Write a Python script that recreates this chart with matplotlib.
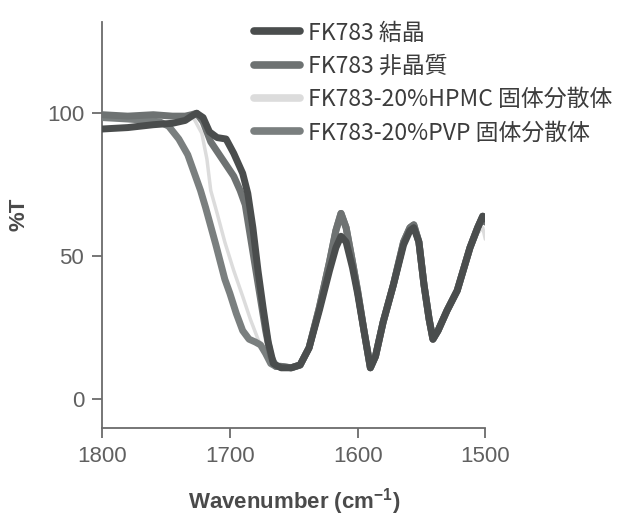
import matplotlib
matplotlib.use("Agg")
import matplotlib.pyplot as plt

plt.rcParams['font.family'] = ['Liberation Sans', 'DejaVu Sans']
plt.rcParams['mathtext.fontset'] = 'custom'
plt.rcParams['mathtext.rm'] = 'Liberation Sans'
plt.rcParams['mathtext.bf'] = 'Liberation Sans:bold'

# IR spectra (wavenumber in cm-1, transmittance in %)
labels = ["FK783 結晶", "FK783 非晶質", "FK783-20%HPMC 固体分散体", "FK783-20%PVP 固体分散体"]

crystal_wn = [1800, 1780, 1760, 1745, 1735, 1730, 1726, 1721, 1716, 1710, 1703, 1697, 1690,
              1686, 1682, 1678, 1674, 1670, 1666, 1660, 1652, 1645, 1638, 1630, 1622, 1617,
              1613, 1609, 1604, 1600, 1595, 1590, 1586, 1580, 1572, 1564, 1559, 1556, 1552,
              1548, 1544, 1541, 1537, 1530, 1522, 1512, 1506, 1502, 1500]
crystal_t = [94.5, 95, 96, 96.5, 97.5, 99, 100, 98.5, 93.5, 91.5, 91, 86, 79,
             72, 60, 45, 32, 20, 12.5, 11, 11, 12, 18, 31, 45, 53,
             57, 55, 46, 37, 24, 11, 15, 27, 40, 54, 59, 60, 55,
             40, 28, 21, 24, 31, 38, 53, 60, 64, 63]

amorph_wn = [1800, 1780, 1760, 1745, 1735, 1730, 1726, 1721, 1715, 1706, 1697, 1692, 1688,
             1684, 1680, 1676, 1672, 1668, 1664, 1660, 1652, 1645, 1638, 1630, 1622, 1617,
             1613, 1609, 1604, 1600, 1595, 1590, 1586, 1580, 1572, 1564, 1559, 1556, 1552,
             1548, 1544, 1541, 1537, 1530, 1522, 1512, 1506, 1502, 1500]
amorph_t = [99.5, 99, 99.5, 99, 99, 99.5, 100, 97, 90, 84, 78, 73, 68,
            57, 46, 35, 24, 15, 11.5, 11.5, 11, 12, 18, 32, 48, 59,
            65, 60, 48, 38, 24, 11, 15, 27, 40, 55, 60, 61, 55,
            40, 28, 21, 24, 31, 38, 53, 60, 64, 62]

hpmc_wn = [1800, 1780, 1760, 1745, 1735, 1728, 1722, 1718, 1715, 1710, 1704, 1697, 1690,
           1684, 1678, 1672, 1666, 1660, 1652, 1645, 1638, 1630, 1622, 1617,
           1613, 1609, 1604, 1600, 1595, 1590, 1586, 1580, 1572, 1564, 1559, 1556, 1552,
           1548, 1544, 1541, 1537, 1530, 1522, 1512, 1506, 1502, 1500]
hpmc_t = [99, 99.5, 99, 99, 99, 98, 93, 84, 73, 65, 55, 45, 36,
          28, 21, 15, 12, 11, 11, 12, 18, 32, 48, 59,
          64, 60, 48, 38, 24, 11.5, 15, 27, 40, 54, 58, 59, 54,
          40, 28, 21.5, 24, 31, 38, 52, 58, 60, 56]

pvp_wn = [1800, 1780, 1765, 1755, 1748, 1740, 1733, 1727, 1723, 1719, 1711, 1704, 1700,
          1695, 1690, 1685, 1680, 1676, 1672, 1668, 1664, 1660, 1652, 1645, 1638, 1630,
          1622, 1617, 1613, 1609, 1604, 1600, 1595, 1590, 1586, 1580, 1572, 1564, 1559,
          1556, 1552, 1548, 1544, 1541, 1537, 1530, 1522, 1512, 1506, 1502, 1500]
pvp_t = [98.5, 98, 97.5, 97, 95.5, 91, 85.5, 78, 73, 67, 54, 42, 37,
         30, 24, 21, 20, 19, 16, 12.5, 11.5, 11.5, 11, 12, 18, 32,
         48, 59, 65, 60, 48, 38, 24, 11, 15, 27, 40, 55, 60,
         61, 55, 40, 28, 21, 24, 31, 38, 53, 60, 64, 62]

x_ticks = [1800, 1700, 1600, 1500]
y_ticks = [0, 50, 100]

fig = plt.figure(figsize=(6.27, 5.18), dpi=100)
ax = fig.add_axes([0.163, 0.174, 0.611, 0.784])

line_kw = dict(solid_capstyle='round', solid_joinstyle='round')
ax.plot(hpmc_wn, hpmc_t, color='#dcdcdc', lw=2.5, zorder=2, label=labels[2], **line_kw)
ax.plot(pvp_wn, pvp_t, color='#7a7f7f', lw=5, zorder=3, label=labels[3], **line_kw)
ax.plot(amorph_wn, amorph_t, color='#6e7272', lw=5, zorder=4, label=labels[1], **line_kw)
ax.plot(crystal_wn, crystal_t, color='#4a4d4d', lw=5, zorder=5, label=labels[0], **line_kw)

ax.set_xlim(1800, 1500)
ax.set_ylim(-10, 132)
ax.set_xticks(x_ticks)
ax.set_yticks(y_ticks)

for s in ['top', 'right']:
    ax.spines[s].set_visible(False)
for s in ['left', 'bottom']:
    ax.spines[s].set_color('#6b6b6b')
    ax.spines[s].set_linewidth(1.3)
ax.tick_params(colors='#6b6b6b', labelcolor='#606060', labelsize=16, length=7, width=1.3, pad=6)

ax.set_xlabel("Wavenumber (cm$^{\\mathbf{-1}}$)", fontsize=16, fontweight='bold',
              color='#4a4a4a', labelpad=14)
ax.set_ylabel("%T", fontsize=16, fontweight='bold', color='#4a4a4a')
ax.yaxis.set_label_coords(-0.19, 0.525)

# legend in the order of the reference
handles, lbls = ax.get_legend_handles_labels()
order = [3, 2, 0, 1]
leg = fig.legend([handles[i] for i in order], [lbls[i] for i in order],
                 loc='upper left', bbox_to_anchor=(243 / 627, 1 - 10 / 518),
                 frameon=False, borderpad=0, handlelength=2.0, handletextpad=0.35,
                 labelspacing=0.45, prop={'family': ['Noto Sans CJK JP', 'DejaVu Sans'], 'size': 16.5})
for t in leg.get_texts():
    t.set_color('#3c3c3c')
for h in leg.legend_handles:
    h.set_linewidth(5.5)

fig.savefig("out.png", dpi=100)
